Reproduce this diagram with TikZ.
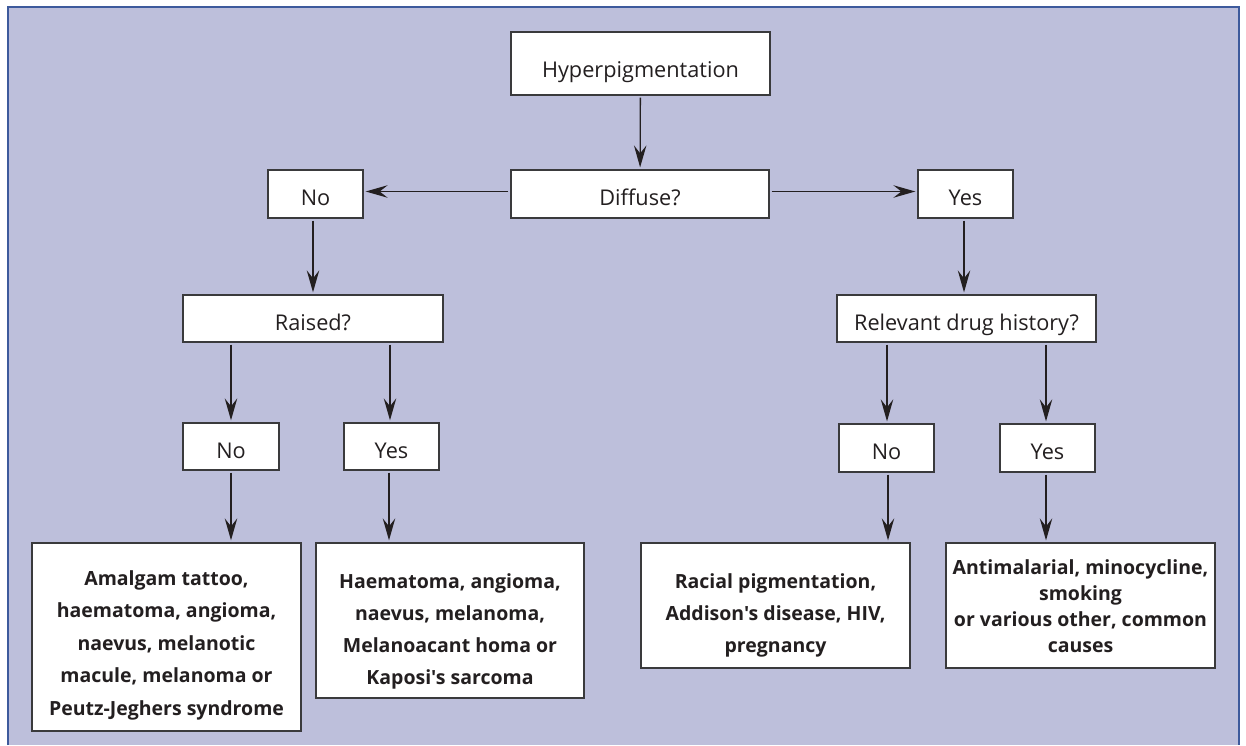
\documentclass[tikz,border=0pt]{standalone}
\usepackage{fontspec}
\setmainfont{Open Sans}[Ligatures=TeXReset]
\usetikzlibrary{arrows.meta}
\definecolor{panelbg}{HTML}{BDBFDB}
\definecolor{panelline}{HTML}{3D5A9C}
\definecolor{boxline}{HTML}{3A3A3C}
\definecolor{ink}{HTML}{231F20}
\tikzset{
  box/.style={draw=boxline, fill=white, line width=1.3pt, inner sep=0pt, text=ink,
              font=\fontsize{21.7}{26}\selectfont, text height=23pt, text depth=0pt},
  bigbox/.style={draw=boxline, fill=white, line width=1.3pt, inner sep=0pt},
  btext/.style={align=center, text=ink, font=\fontsize{19.5}{32.5}\selectfont\bfseries},
  arr/.style={-{Stealth[length=22pt,width=12.5pt,inset=8pt]}, line width=1.3pt, draw=ink,
              shorten <=2pt, shorten >=2pt}
}
\begin{document}
\begin{tikzpicture}[x=1pt,y=-1pt]
\useasboundingbox (0,0) rectangle (1246,745);
\fill[panelbg] (8,7) rectangle (1239,745);
\draw[panelline, line width=1.2pt] (8,745) -- (8,7) -- (1239,7) -- (1239,745);

\node[box, minimum width=259pt, minimum height=63pt, text height=28pt] (hyp) at (640.5,63.5) {Hyperpigmentation};
\node[box, minimum width=258pt, minimum height=48pt] (diff) at (640,194) {Diffuse?};
\node[box, minimum width=95pt, minimum height=48pt] (noA) at (315.5,194) {No};
\node[box, minimum width=95pt, minimum height=48pt] (yesA) at (965.5,194) {Yes};
\node[box, minimum width=260pt, minimum height=47pt] (raised) at (313,318.5) {Raised?};
\node[box, minimum width=259pt, minimum height=47pt] (drug) at (966.5,318.5) {Relevant drug history?};
\node[box, minimum width=96pt, minimum height=47pt] (noB) at (231,446.5) {No};
\node[box, minimum width=95pt, minimum height=47pt] (yesB) at (391.5,446.5) {Yes};
\node[box, minimum width=95pt, minimum height=48pt] (noC) at (886.5,448) {No};
\node[box, minimum width=95pt, minimum height=48pt] (yesC) at (1047.5,448) {Yes};

\node[bigbox, minimum width=269pt, minimum height=188pt,
  label={[btext, yshift=-8pt]center:Amalgam tattoo,\\haematoma, angioma,\\naevus, melanotic\\macule, melanoma or\\Peutz-Jeghers syndrome}]
  (b1) at (166.5,637) {};
\node[bigbox, minimum width=268pt, minimum height=155pt,
  label={[btext, yshift=-11pt, font=\fontsize{19.5}{32}\selectfont\bfseries]center:Haematoma, angioma,\\naevus, melanoma,\\Melanoacant homa or\\Kaposi's sarcoma}]
  (b2) at (450,620.5) {};
\node[bigbox, minimum width=269pt, minimum height=125pt,
  label={[btext, yshift=-10pt, font=\fontsize{19.5}{32}\selectfont\bfseries]center:Racial pigmentation,\\Addison's disease, HIV,\\pregnancy}]
  (b3) at (775.5,605.5) {};
\node[bigbox, minimum width=269pt, minimum height=125pt,
  label={[btext, yshift=-1pt, font=\fontsize{19.5}{26}\selectfont\bfseries]center:Antimalarial, minocycline,\\smoking\\or various other, common\\causes}]
  (b4) at (1080.5,605.5) {};

\coordinate (dW) at ([yshift=2.5pt]diff.west);
\coordinate (dE) at ([yshift=2.5pt]diff.east);
\coordinate (nAs) at ([xshift=-2.5pt]noA.south);
\coordinate (yAs) at ([xshift=-1.5pt]yesA.south);

\draw[arr] (hyp) -- (diff);
\draw[arr] (dW) -- (dW -| noA.east);
\draw[arr] (dE) -- (dE -| yesA.west);
\draw[arr] (nAs) -- (nAs |- raised.north);
\draw[arr] (yAs) -- (yAs |- drug.north);
\draw[arr] (raised.south -| noB.north) -- (noB.north);
\draw[arr] ([xshift=-1.5pt]raised.south -| yesB.north) -- ([xshift=-1.5pt]yesB.north);
\draw[arr] ([xshift=0.5pt]drug.south -| noC.north) -- ([xshift=0.5pt]noC.north);
\draw[arr] ([xshift=-1.5pt]drug.south -| yesC.north) -- ([xshift=-1.5pt]yesC.north);
\draw[arr] (noB.south) -- (noB.south |- b1.north);
\draw[arr] ([xshift=-2.5pt]yesB.south) -- ([xshift=-2.5pt]yesB.south |- b2.north);
\draw[arr] ([xshift=1.5pt]noC.south) -- ([xshift=1.5pt]noC.south |- b3.north);
\draw[arr] ([xshift=-1.5pt]yesC.south) -- ([xshift=-1.5pt]yesC.south |- b4.north);
\end{tikzpicture}
\end{document}
